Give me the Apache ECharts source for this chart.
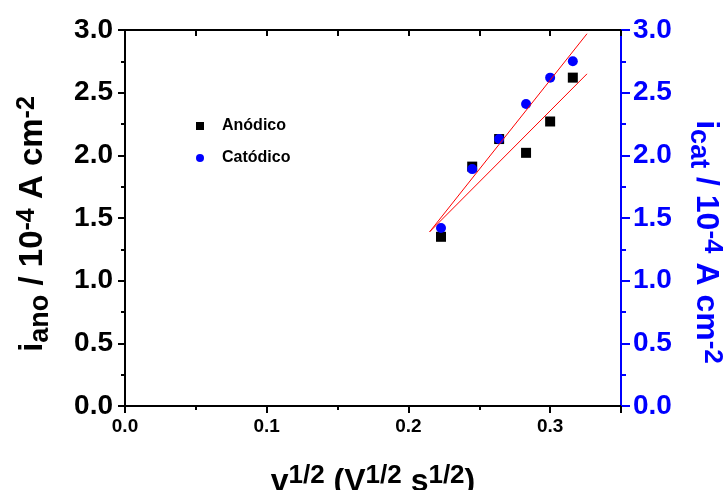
<!DOCTYPE html>
<html>
<head>
<meta charset="utf-8">
<script src="https://cdn.jsdelivr.net/npm/echarts@6/dist/echarts.min.js"></script>
<style>
html,body{margin:0;padding:0;background:#fff;}
#chart{width:723px;height:490px;}
</style>
</head>
<body>
<div id="chart"></div>
<script>
// ---- data ----
const xVals = [0.223, 0.245, 0.264, 0.283, 0.300, 0.316];
const anodico = [1.35, 1.91, 2.13, 2.02, 2.27, 2.62];
const catodico = [1.42, 1.89, 2.13, 2.41, 2.62, 2.75];
const fitX = [0.215, 0.326];
const anodicoFit = [1.39, 2.65];
const catodicoFit = [1.39, 2.97];
const seriesNames = ['Anódico', 'Catódico'];

const FONT = 'Arial, "Liberation Sans", sans-serif';
const pairs = (xs, ys) => xs.map((x, i) => [x, ys[i]]);

const chart = echarts.init(document.getElementById('chart'), null, {renderer: 'canvas'});

// rich styles: main text, superscript (raised), subscript (lowered), spacer
function titleRich(color, F, fsSup, fsSub, up, down, spacer) {
  const base = {fontWeight: 'bold', fontFamily: FONT, color: color, lineHeight: 44, verticalAlign: 'middle'};
  return {
    m:   Object.assign({}, base, {fontSize: F}),
    sup: Object.assign({}, base, {fontSize: fsSup, padding: [0, 0, 2 * up, 0]}),
    sub: Object.assign({}, base, {fontSize: fsSub, padding: [2 * down, 0, 0, 0]}),
    sp:  Object.assign({}, base, {fontSize: 4, width: spacer})
  };
}

const option = {
  backgroundColor: '#fff',
  animation: false,
  grid: {left: 125, right: 102, top: 30, bottom: 84, containLabel: false, outerBoundsMode: 'none'},
  legend: {
    data: seriesNames,
    orient: 'vertical',
    left: 191, top: 113,
    itemWidth: 8, itemHeight: 8, itemGap: 16,
    textStyle: {fontFamily: FONT, fontWeight: 'bold', fontSize: 16, color: '#000', padding: [0, 0, 0, 13]}
  },
  xAxis: [
    {
      type: 'value', position: 'bottom', min: 0, max: 0.35, interval: 0.1,
      name: '{m|v}{sup|1/2}{m| (V}{sup|1/2}{m| s}{sup|1/2}{m|)}',
      nameLocation: 'middle', nameGap: 54,
      nameTextStyle: {rich: titleRich('#000', 32, 26, 26, 6, 0, 0)},
      axisLine: {show: true, onZero: false, lineStyle: {color: '#000', width: 2}},
      axisTick: {show: true, inside: false, length: 7, lineStyle: {color: '#000', width: 2}},
      minorTick: {show: true, splitNumber: 2, length: 4, lineStyle: {color: '#000', width: 2}},
      axisLabel: {margin: 11, fontFamily: FONT, fontWeight: 'bold', fontSize: 19, color: '#000',
        showMaxLabel: false, formatter: v => v.toFixed(1)},
      splitLine: {show: false}
    },
    {
      type: 'value', position: 'top', min: 0, max: 0.35, interval: 0.05,
      axisLine: {show: true, onZero: false, lineStyle: {color: '#000', width: 2}},
      axisTick: {show: true, inside: true, length: 6, lineStyle: {color: '#000', width: 2}},
      axisLabel: {show: false},
      splitLine: {show: false}
    }
  ],
  yAxis: [
    {
      type: 'value', position: 'left', min: 0, max: 3, interval: 0.5,
      name: '{m|i}{sub|ano}{m| / 10}{sup|-4}{m| A cm}{sup|-2}{sp| }',
      nameLocation: 'middle', nameRotate: 90, nameGap: 70,
      nameTextStyle: {rich: titleRich('#000', 33, 25, 27, 6, 8, 12)},
      axisLine: {show: true, onZero: false, lineStyle: {color: '#000', width: 2}},
      axisTick: {show: true, inside: false, length: 7, lineStyle: {color: '#000', width: 2}},
      minorTick: {show: true, splitNumber: 2, length: 4, lineStyle: {color: '#000', width: 2}},
      axisLabel: {margin: 12, fontFamily: FONT, fontWeight: 'bold', fontSize: 28, color: '#000',
        formatter: v => v.toFixed(1)},
      splitLine: {show: false}
    },
    {
      type: 'value', position: 'right', min: 0, max: 3, interval: 0.5,
      name: '{sp| }{m|i}{sub|cat}{m| / 10}{sup|-4}{m| A cm}{sup|-2}',
      nameLocation: 'middle', nameRotate: -90, nameGap: 63,
      nameTextStyle: {rich: titleRich('#0000ff', 32, 26, 27, 6, 8, 48)},
      axisLine: {show: true, onZero: false, lineStyle: {color: '#0000ff', width: 2}},
      axisTick: {show: true, inside: false, length: 9, lineStyle: {color: '#0000ff', width: 2}},
      minorTick: {show: true, splitNumber: 2, length: 5, lineStyle: {color: '#0000ff', width: 2}},
      axisLabel: {margin: 12, fontFamily: FONT, fontWeight: 'bold', fontSize: 28, color: '#0000ff',
        formatter: v => v.toFixed(1)},
      splitLine: {show: false}
    }
  ],
  series: [
    {
      name: seriesNames[0], type: 'scatter', xAxisIndex: 0, yAxisIndex: 0,
      symbol: 'rect', symbolSize: 10, itemStyle: {color: '#000', opacity: 1}, z: 2,
      data: pairs(xVals, anodico)
    },
    {
      name: seriesNames[1], type: 'scatter', xAxisIndex: 0, yAxisIndex: 1,
      symbol: 'circle', symbolSize: 10, itemStyle: {color: '#0000ff', opacity: 1}, z: 3,
      data: pairs(xVals, catodico)
    },
    {
      name: 'fitA', type: 'line', xAxisIndex: 0, yAxisIndex: 0, silent: true,
      showSymbol: false, symbol: 'none', lineStyle: {color: '#ff0000', width: 1}, z: 4,
      data: pairs(fitX, anodicoFit)
    },
    {
      name: 'fitC', type: 'line', xAxisIndex: 0, yAxisIndex: 1, silent: true,
      showSymbol: false, symbol: 'none', lineStyle: {color: '#ff0000', width: 1}, z: 4,
      data: pairs(fitX, catodicoFit)
    }
  ]
};
chart.setOption(option);
</script>
</body>
</html>
